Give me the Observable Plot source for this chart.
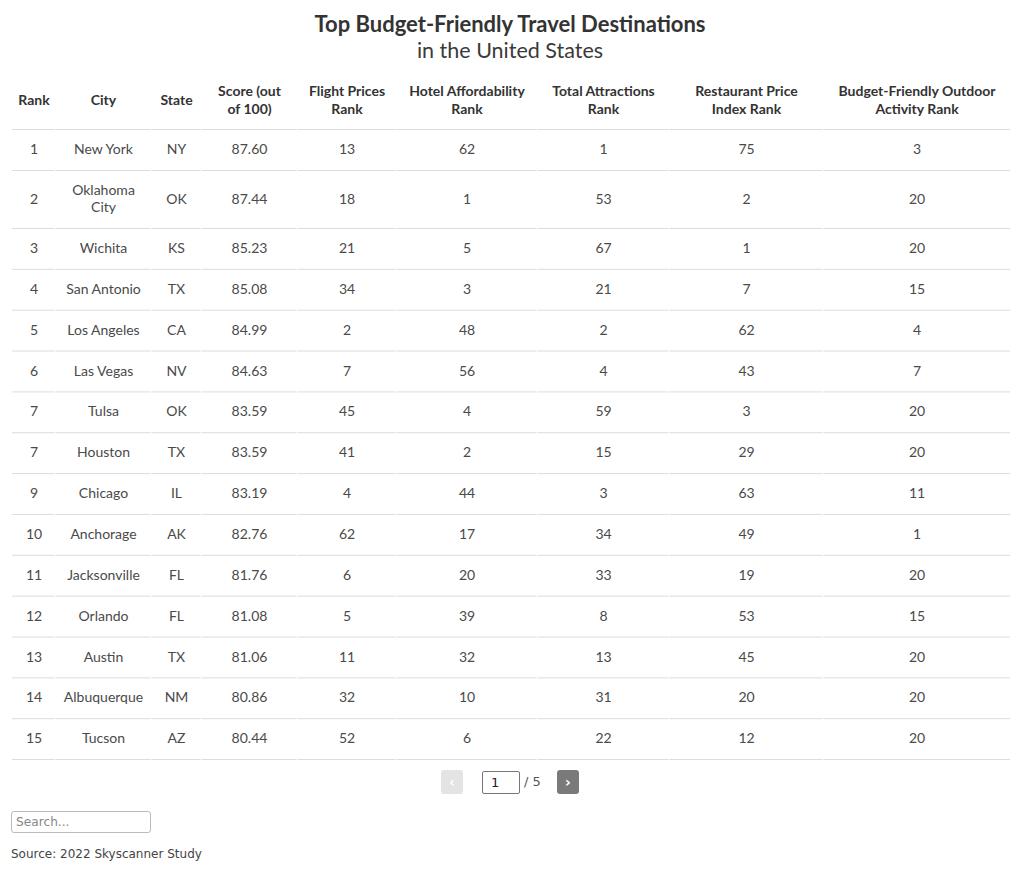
<!DOCTYPE html>
<html>
<head>
<meta charset="utf-8">
<script src="https://cdn.jsdelivr.net/npm/d3@7"></script>
<script src="https://cdn.jsdelivr.net/npm/@observablehq/plot@0.6"></script>
<style>
  html, body { margin: 0; padding: 0; background: #fff; }
  body { width: 1020px; font-family: "Source Sans Pro", Lato, sans-serif; color: #444; }
  #title { height: 72px; text-align: center; position: relative; }
  #title .t { position: absolute; left: 0; right: 0; top: 10px; font-size: 22px; font-weight: 700; color: #333; line-height: 28px; }
  #title .s { position: absolute; left: 0; right: 0; top: 37px; font-size: 21.5px; font-weight: 400; color: #3a3a3a; line-height: 26px; }
  #chart svg { display: block; }
  #pager { height: 24px; margin-top: 6px; position: relative; font-family: "DejaVu Sans", sans-serif; }
  #pager .btn { position: absolute; top: 0; width: 22px; height: 24px; border-radius: 3px; color: #fff; font-size: 14px; font-weight: bold; text-align: center; line-height: 24px; }
  #pager .prev { left: 441px; background: #e4e4e4; }
  #pager .next { left: 557px; background: #7a7a7a; }
  #pager .inp { position: absolute; left: 482px; top: 1px; border: 1px solid #777; border-radius: 2px; font-size: 13px; line-height: 21px; padding-left: 8px; box-sizing: border-box; width: 38px; height: 23px; color: #222; }
  #pager .of { position: absolute; left: 524px; top: 0; line-height: 24px; font-size: 13px; color: #555; }
  #search { position: absolute; left: 11px; top: 811px; width: 140px; height: 22px; box-sizing: border-box; border: 1px solid #bbb; border-radius: 3px; font-family: "DejaVu Sans", sans-serif; font-size: 12.2px; color: #888; padding-left: 4px; line-height: 20px; }
  #source { position: absolute; left: 11px; top: 844px; font-family: "DejaVu Sans", sans-serif; font-size: 12px; color: #444; line-height: 20px; }
</style>
</head>
<body>
<div id="title"><div class="t">Top Budget-Friendly Travel Destinations</div><div class="s">in the United States</div></div>
<div id="chart"></div>
<div id="pager"><div class="btn prev">‹</div><div class="inp">1</div><div class="of">/ 5</div><div class="btn next">›</div></div>
<div id="search">Search...</div>
<div id="source">Source: 2022 Skyscanner Study</div>
<script>
// ---- data ----
const headers = ["Rank", "City", "State", "Score (out\nof 100)", "Flight Prices\nRank", "Hotel Affordability\nRank", "Total Attractions\nRank", "Restaurant Price\nIndex Rank", "Budget-Friendly Outdoor\nActivity Rank"];
const ranks = [1, 2, 3, 4, 5, 6, 7, 7, 9, 10, 11, 12, 13, 14, 15];
const cities = ["New York", "Oklahoma City", "Wichita", "San Antonio", "Los Angeles", "Las Vegas", "Tulsa", "Houston", "Chicago", "Anchorage", "Jacksonville", "Orlando", "Austin", "Albuquerque", "Tucson"];
const states = ["NY", "OK", "KS", "TX", "CA", "NV", "OK", "TX", "IL", "AK", "FL", "FL", "TX", "NM", "AZ"];
const scores = [87.60, 87.44, 85.23, 85.08, 84.99, 84.63, 83.59, 83.59, 83.19, 82.76, 81.76, 81.08, 81.06, 80.86, 80.44];
const flightRanks = [13, 18, 21, 34, 2, 7, 45, 41, 4, 62, 6, 5, 11, 32, 52];
const hotelRanks = [62, 1, 5, 3, 48, 56, 4, 2, 44, 17, 20, 39, 32, 10, 6];
const attractionRanks = [1, 53, 67, 21, 2, 4, 59, 15, 3, 34, 33, 8, 13, 31, 22];
const restaurantRanks = [75, 2, 1, 7, 62, 43, 3, 29, 63, 49, 19, 53, 45, 20, 12];
const outdoorRanks = [3, 20, 20, 15, 4, 7, 20, 20, 11, 1, 20, 15, 20, 20, 20];

// ---- layout ----
const W = 1020, H = 692;
const colEdges = [12, 55, 151, 201, 297, 396, 537, 669, 823, 1010];
const headerH = 57;
const rowH = 40.85, tallRowH = 58;
const wraps = c => c.length > 12 && c.includes(" ");

const columns = [ranks, cities, states, scores.map(v => v.toFixed(2)), flightRanks, hotelRanks, attractionRanks, restaurantRanks, outdoorRanks];
const colCenter = j => (colEdges[j] + colEdges[j + 1]) / 2;

const rowTops = [];
let yy = headerH;
cities.forEach((c, i) => { rowTops.push(yy); yy += (wraps(c) ? tallRowH : (i === 0 ? 41 : rowH)); });
const rowBottoms = rowTops.map((t, i) => i + 1 < rowTops.length ? rowTops[i + 1] : yy);

const headerCells = headers.map((h, j) => ({x: colCenter(j), y: headerH / 2 - 2, text: h}));
const cells = [];
cities.forEach((c, i) => {
  columns.forEach((col, j) => {
    cells.push({x: colCenter(j), y: (rowTops[i] + rowBottoms[i]) / 2 - 1.3, text: String(col[i])});
  });
});
const lines = [headerH, ...rowBottoms];
const segs = [];
lines.forEach(y => { for (let j = 0; j < colEdges.length - 1; j++) segs.push({y, x1: colEdges[j] + (j ? 0.5 : 0), x2: colEdges[j + 1] - (j < colEdges.length - 2 ? 0.5 : 0)}); });

const chart = Plot.plot({
  width: W, height: H,
  margin: 0,
  x: {type: "linear", domain: [0, W], range: [0, W], axis: null},
  y: {type: "linear", domain: [0, H], range: [0, H], axis: null},
  style: {fontFamily: "'Source Sans Pro', Lato, sans-serif", background: "#fff"},
  marks: [
    Plot.ruleY(segs, {y: "y", x1: "x1", x2: "x2", stroke: "#dcdcdc", strokeWidth: 1}),
    Plot.text(headerCells, {x: "x", y: "y", text: "text", fontSize: 14, fontWeight: 700, fill: "#333", lineHeight: 1.3}),
    Plot.text(cells, {x: "x", y: "y", text: "text", fontSize: 14, fill: "#4a4a4a", lineWidth: 6, lineHeight: 1.2})
  ]
});
document.getElementById("chart").appendChild(chart);
</script>
</body>
</html>
